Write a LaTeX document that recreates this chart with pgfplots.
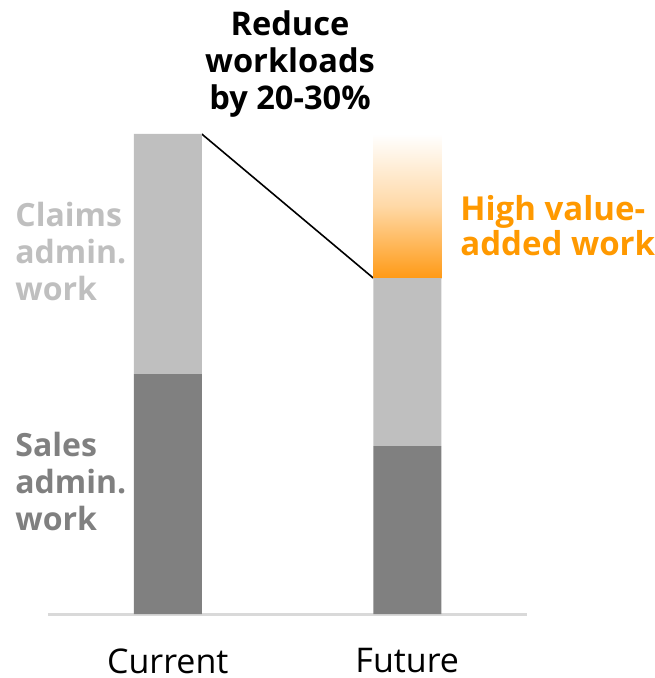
\documentclass[border=0pt]{standalone}
\usepackage{fontspec}
\setmainfont{Open Sans}
\usepackage{pgfplots}
\pgfplotsset{compat=1.18}
\definecolor{darkg}{HTML}{808080}
\definecolor{lightg}{HTML}{BFBFBF}
\definecolor{orng}{HTML}{FF9A16}
\definecolor{orngtxt}{HTML}{FF9900}
\definecolor{axisg}{HTML}{D9D9D9}
\begin{document}
\begin{tikzpicture}
\path[use as bounding box] (0,0) rectangle (327pt,-339pt);
\begin{axis}[
  at={(24pt,-307pt)}, anchor=south west,
  scale only axis, width=239.5pt, height=240pt,
  xmin=-0.5, xmax=1.5, ymin=0, ymax=100,
  ybar stacked, bar width=34pt,
  axis x line=bottom, axis y line=none,
  axis line style={axisg, line width=1.5pt, -},
  xtick={0,1}, xticklabels={Current,Future},
  major tick length=0pt,
  xticklabel style={anchor=center, inner sep=0pt, yshift=-23.5pt, font=\fontsize{17}{20}\selectfont},
  ytick=\empty,
  clip=false,
]
\addplot[fill=darkg, draw=none] coordinates {(0,50) (1,35)};
\addplot[fill=lightg, draw=none] coordinates {(0,50) (1,35)};
\addplot[draw=none, top color=white, bottom color=orng, middle color=orng!38] coordinates {(0,0) (1,30)};
\draw[black, line width=0.8pt] (axis cs:0.142,100) -- (axis cs:0.858,70);
\end{axis}
\node[font=\bfseries\fontsize{16.3}{18.5}\selectfont, align=center, text=black] at (145pt,-32pt) {Reduce\\workloads\\by 20-30\%};
\node[font=\bfseries\fontsize{16}{18.5}\selectfont, align=left, text=lightg, anchor=west, inner sep=0pt] at (7.5pt,-125.5pt) {Claims\\admin.\\work};
\node[font=\bfseries\fontsize{16}{18.5}\selectfont, align=left, text=darkg, anchor=west, inner sep=0pt] at (7.5pt,-240.5pt) {Sales\\admin.\\work};
\node[font=\bfseries\fontsize{16.5}{17.5}\selectfont, align=left, text=orngtxt, anchor=west, inner sep=0pt] at (230pt,-113pt) {High value-\\added work};
\end{tikzpicture}
\end{document}
